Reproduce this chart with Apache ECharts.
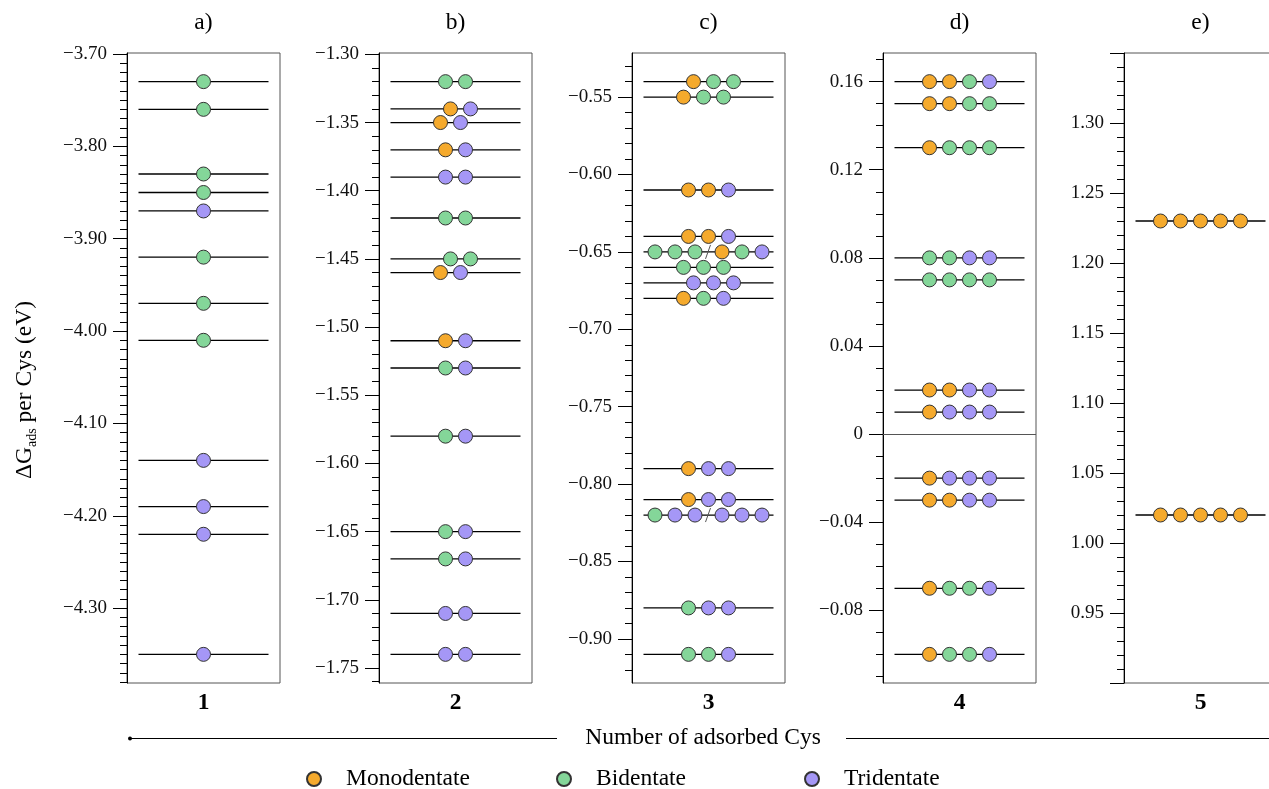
<!DOCTYPE html>
<html><head><meta charset="utf-8">
<script src="https://cdn.jsdelivr.net/npm/echarts@6/dist/echarts.min.js"></script>
<style>html,body{margin:0;padding:0;background:#fff}#c{width:1269px;height:789px}</style>
</head><body><div id="c"></div>
<script>
// ---------------- data ----------------
const categories = ['1', '2', '3', '4', '5'];
const panelTitles = ['a)', 'b)', 'c)', 'd)', 'e)'];
const seriesNames = ['Monodentate', 'Bidentate', 'Tridentate'];
const seriesCodes = ['M', 'B', 'T'];
// one string per energy level; M/B/T per adsorbed configuration, '/' separates two sets at the same energy
const energies1 = [-3.73, -3.76, -3.83, -3.85, -3.87, -3.92, -3.97, -4.01, -4.14, -4.19, -4.22, -4.35];
const modes1 = ['B', 'B', 'B', 'B', 'T', 'B', 'B', 'B', 'T', 'T', 'T', 'T'];
const energies2 = [-1.32, -1.34, -1.35, -1.37, -1.39, -1.42, -1.45, -1.46, -1.51, -1.53, -1.58, -1.65, -1.67, -1.71, -1.74];
const modes2 = ['BB', 'MT', 'MT', 'MT', 'TT', 'BB', 'BB', 'MT', 'MT', 'BT', 'BT', 'BT', 'BT', 'TT', 'TT'];
const energies3 = [-0.54, -0.55, -0.61, -0.64, -0.65, -0.66, -0.67, -0.68, -0.79, -0.81, -0.82, -0.88, -0.91];
const modes3 = ['MBB', 'MBB', 'MMT', 'MMT', 'BBB/MBT', 'BBB', 'TTT', 'MBT', 'MTT', 'MTT', 'BTT/TTT', 'BTT', 'BBT'];
const energies4 = [0.16, 0.15, 0.13, 0.08, 0.07, 0.02, 0.01, -0.02, -0.03, -0.07, -0.10];
const modes4 = ['MMBT', 'MMBB', 'MBBB', 'BBTT', 'BBBB', 'MMTT', 'MTTT', 'MTTT', 'MMTT', 'MBBT', 'MBBT'];
const energies5 = [1.23, 1.02];
const modes5 = ['MMMMM', 'MMMMM'];
// y tick values / labels
const ticks1 = [-4.30, -4.20, -4.10, -4.00, -3.90, -3.80, -3.70];
const ticks2 = [-1.75, -1.70, -1.65, -1.60, -1.55, -1.50, -1.45, -1.40, -1.35, -1.30];
const ticks3 = [-0.90, -0.85, -0.80, -0.75, -0.70, -0.65, -0.60, -0.55];
const ticks4 = [-0.08, -0.04, 0, 0.04, 0.08, 0.12, 0.16];
const ticks5 = [0.90, 0.95, 1.00, 1.05, 1.10, 1.15, 1.20, 1.25, 1.30, 1.35];
const tickLabels5 = [0.95, 1.00, 1.05, 1.10, 1.15, 1.20, 1.25, 1.30];
const range5 = [0.90, 1.35];

// ---------------- layout / style ----------------
const FONT = '"Liberation Serif", "Times New Roman", serif';
const BIG = 23.5;
const COLORS = { M: '#F5AA2D', B: '#84D699', T: '#A597F6' };
const GRID_LEFTS = [127, 379, 632, 883, 1124];
const GRID_TOP = 53, GRID_H = 630, GRID_W = 153;
const UNIT = 20;                 // px between neighbouring dots
const XHALF = GRID_W / 2 / UNIT; // x axis half range in dot units
const LINE_HALF = 3.25;          // level line half length in dot units
const DOT = 14;

const panels = [
  { E: energies1, M: modes1, ticks: ticks1, labels: ticks1 },
  { E: energies2, M: modes2, ticks: ticks2, labels: ticks2 },
  { E: energies3, M: modes3, ticks: ticks3, labels: ticks3 },
  { E: energies4, M: modes4, ticks: ticks4, labels: ticks4 },
  { E: energies5, M: modes5, ticks: ticks5, labels: tickLabels5, range: range5 }
];

function padRange(E) {
  const lo = Math.min(...E), hi = Math.max(...E), p = (hi - lo) * 0.05;
  return [lo - p, hi + p];
}
function staggers(E, M, lo, hi) {
  const pxPer = GRID_H / (hi - lo);
  const s = E.map(() => 0);
  const idx = E.map((e, i) => i).sort((a, b) => E[a] - E[b]);
  let chain = [];
  const flush = () => { if (chain.length > 1) chain.forEach((k, j) => { s[k] = (j % 2 === 0 ? -0.25 : 0.25); }); chain = []; };
  for (const k of idx) {
    if (M[k].includes('/')) { flush(); continue; }
    if (chain.length && (E[k] - E[chain[chain.length - 1]]) * pxPer >= DOT + 3) flush();
    chain.push(k);
  }
  flush();
  return s;
}
function rowDots(code, shift) {
  const parts = code.split('/');
  if (parts.length === 1) {
    const n = code.length;
    return code.split('').map((c, i) => ({ c, x: i - (n - 1) / 2 + shift }));
  }
  const L = parts[0], R = parts[1], out = [];
  for (let i = 0; i < L.length; i++) out.push({ c: L[i], x: -(0.675 + (L.length - 1 - i)) });
  for (let j = 0; j < R.length; j++) out.push({ c: R[j], x: 0.675 + j });
  return out;
}
const fmt = v => (Math.abs(v) < 1e-9 ? '0' : v.toFixed(2)).replace('-', '\u2212');

const grids = [], xAxes = [], yAxes = [], series = [];
panels.forEach((P, i) => {
  const [lo, hi] = P.range || padRange(P.E);
  grids.push({ left: GRID_LEFTS[i], top: GRID_TOP, width: GRID_W, height: GRID_H, show: true, borderColor: '#555', borderWidth: 1,
    backgroundColor: 'transparent', containLabel: false, outerBoundsMode: 'none' });
  xAxes.push({
    gridIndex: i, type: 'value', min: -XHALF, max: XHALF, show: true,
    axisLine: { show: false, onZero: false }, axisTick: { show: false }, axisLabel: { show: false }, splitLine: { show: false },
    name: categories[i], nameLocation: 'middle', nameGap: 8,
    nameTextStyle: { fontFamily: FONT, fontWeight: 'bold', fontSize: BIG, color: '#000', verticalAlign: 'top' }
  });
  const minors = [];
  for (let k = Math.ceil(lo * 100 - 1e-6); k <= Math.floor(hi * 100 + 1e-6); k++) minors.push(k / 100);
  yAxes.push({
    gridIndex: i, type: 'value', min: lo, max: hi, position: 'left', offset: 0,
    axisLine: { show: true, onZero: false, lineStyle: { color: '#000', width: 1 } },
    axisTick: { show: true, inside: false, length: 14, customValues: P.ticks, lineStyle: { color: '#000', width: 1 } },
    axisLabel: { show: true, customValues: P.labels, margin: 20, formatter: fmt, fontFamily: FONT, fontSize: 19, color: '#111' },
    splitLine: { show: false }
  });
  yAxes.push({
    gridIndex: i, type: 'value', min: lo, max: hi, position: 'left', offset: 0,
    axisLine: { show: false, onZero: false },
    axisTick: { show: true, inside: false, length: 7, customValues: minors, lineStyle: { color: '#000', width: 1 } },
    axisLabel: { show: false }, splitLine: { show: false }
  });
  const sh = staggers(P.E, P.M, lo, hi);
  // level lines
  const lineSeries = {
    type: 'custom', xAxisIndex: i, yAxisIndex: 2 * i, silent: true, z: 1, animation: false,
    data: P.E.map(e => [0, e]),
    renderItem: (params, api) => {
      const y = api.value(1);
      const a = api.coord([-LINE_HALF, y]), b = api.coord([LINE_HALF, y]);
      return { type: 'line', shape: { x1: a[0], y1: a[1], x2: b[0], y2: b[1] }, style: { stroke: '#000', lineWidth: 1.3 } };
    }
  };
  if (lo < 0 && hi > 0) {
    lineSeries.markLine = { silent: true, symbol: 'none', label: { show: false }, animation: false,
      lineStyle: { color: '#555', width: 1, type: 'solid' }, data: [{ yAxis: 0 }] };
  }
  series.push(lineSeries);
  // separators for rows with two configuration sets
  const wide = P.E.map((e, k) => [0, e, P.M[k]]).filter(d => d[2].includes('/'));
  if (wide.length) {
    series.push({
      type: 'custom', xAxisIndex: i, yAxisIndex: 2 * i, silent: true, z: 2, animation: false,
      data: wide.map(d => [d[0], d[1]]),
      renderItem: (params, api) => {
        const p = api.coord([api.value(0), api.value(1)]);
        return { type: 'line', shape: { x1: p[0] - 3, y1: p[1] + 7, x2: p[0] + 2, y2: p[1] - 7 }, style: { stroke: '#555', lineWidth: 1 } };
      }
    });
  }
  seriesCodes.forEach((code, t) => {
    const pts = [];
    P.E.forEach((e, k) => rowDots(P.M[k], sh[k]).forEach(d => { if (d.c === code) pts.push([d.x, e]); }));
    series.push({
      type: 'scatter', name: seriesNames[t], xAxisIndex: i, yAxisIndex: 2 * i, z: 3,
      symbol: 'circle', symbolSize: DOT, data: pts, animation: false,
      itemStyle: { color: COLORS[code], borderColor: '#333', borderWidth: 1, opacity: 1 },
      emphasis: { disabled: true }
    });
  });
});

const LEGEND_CENTERS = [313, 563, 811];
const legends = seriesNames.map((n, k) => ({
  data: [n], left: LEGEND_CENTERS[k] - 7, top: 767, itemWidth: 14, itemHeight: 14, icon: 'circle',
  selectedMode: false, padding: 0,
  textStyle: { fontFamily: FONT, fontSize: BIG, color: '#000', padding: [0, 0, 0, 20] }
}));

// y axis name, built from pieces for the subscript
const cv = document.createElement('canvas').getContext('2d');
const measure = (t, px) => { cv.font = px + 'px "Liberation Serif"'; return cv.measureText(t).width; };
const yn = [['\u0394G', BIG, 0], ['ads', 14, 7], [' per Cys (eV)', BIG, 0]];
const ynW = yn.map(p => measure(p[0], p[1]));
const ynTot = ynW.reduce((a, b) => a + b, 0);
let ynX = -ynTot / 2;
const ynChildren = yn.map((p, k) => {
  const el = { type: 'text', x: ynX, y: p[2], style: { text: p[0], font: p[1] + 'px ' + FONT, fill: '#000', textAlign: 'left', textVerticalAlign: 'middle', align: 'left', verticalAlign: 'middle' } };
  ynX += ynW[k];
  return el;
});

const graphics = [
  { type: 'group', x: 25, y: 390, rotation: Math.PI / 2, children: ynChildren },
  { type: 'text', x: 703, y: 738, style: { text: 'Number of adsorbed Cys', font: BIG + 'px ' + FONT, fill: '#000', textAlign: 'center', textVerticalAlign: 'middle', align: 'center', verticalAlign: 'middle' } },
  { type: 'line', shape: { x1: 130, y1: 738.5, x2: 557, y2: 738.5 }, style: { stroke: '#000', lineWidth: 1 } },
  { type: 'line', shape: { x1: 846, y1: 738.5, x2: 1269, y2: 738.5 }, style: { stroke: '#000', lineWidth: 1 } },
  { type: 'circle', shape: { cx: 130, cy: 738.5, r: 2 }, style: { fill: '#000' } }
].concat(panelTitles.map((t, i) => ({
  type: 'text', x: GRID_LEFTS[i] + GRID_W / 2, y: 23,
  style: { text: t, font: BIG + 'px ' + FONT, fill: '#000', textAlign: 'center', textVerticalAlign: 'middle', align: 'center', verticalAlign: 'middle' }
})));

const chart = echarts.init(document.getElementById('c'), null, { renderer: 'canvas' });
chart.setOption({
  animation: false,
  backgroundColor: '#fff',
  grid: grids, xAxis: xAxes, yAxis: yAxes, series: series,
  legend: legends, graphic: graphics
});
</script></body></html>
